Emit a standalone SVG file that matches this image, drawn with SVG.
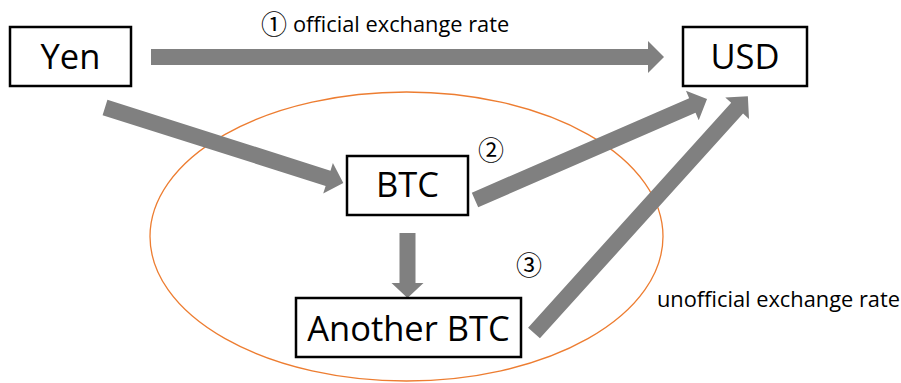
<svg xmlns="http://www.w3.org/2000/svg" width="901" height="383" viewBox="0 0 901 383">
<style>
.box{fill:#fff;stroke:#000;stroke-width:2.5}
.nt{font-family:"Open Sans","Noto Sans","DejaVu Sans",sans-serif;font-size:34.5px;fill:#000;text-anchor:middle}
.lb{font-family:"Open Sans","Noto Sans","DejaVu Sans",sans-serif;font-size:21.8px;fill:#000}
.cn{font-family:"Noto Sans CJK JP","Noto Sans CJK SC",sans-serif;font-size:26px;fill:#000}
.ar{fill:#808080}
</style>
<ellipse cx="406.5" cy="236.5" rx="256.5" ry="144.5" fill="none" stroke="#ED7D31" stroke-width="1.3"/>
<g id="connectors">
<polygon class="ar" transform="translate(151,57)" points="0,-8 497,-8 497,-16 513,0 497,16 497,8 0,8"/>
<polygon class="ar" transform="translate(105,107.5) rotate(17.6)" points="0,-8 234,-8 234,-16 250,0 234,16 234,8 0,8"/>
<polygon class="ar" transform="translate(475,200) rotate(-23.5)" points="0,-8 237,-8 237,-16 253,0 237,16 237,8 0,8"/>
<polygon class="ar" transform="translate(534,333) rotate(-47.9)" points="0,-8 303,-8 303,-16 319,0 303,16 303,8 0,8"/>
<polygon class="ar" transform="translate(407.5,233) rotate(90)" points="0,-8 50,-8 50,-16 65,0 50,16 50,8 0,8"/>
</g>
<g id="yen"><rect class="box" x="10" y="27" width="121" height="59"/><text class="nt" x="70.5" y="69">Yen</text></g>
<g id="usd"><rect class="box" x="683" y="27" width="124" height="59"/><text class="nt" x="745" y="69">USD</text></g>
<g id="btc"><rect class="box" x="347" y="156" width="121" height="59"/><text class="nt" x="407.5" y="197">BTC</text></g>
<g id="another"><rect class="box" x="296" y="298" width="225" height="59"/><text class="nt" x="408.5" y="341">Another BTC</text></g>
<text class="cn" x="261" y="34">①</text>
<text class="lb" x="293" y="32">official exchange rate</text>
<text class="cn" x="478" y="160">②</text>
<text class="cn" x="516" y="275">③</text>
<text class="lb" x="657" y="307">unofficial exchange rate</text>
</svg>
